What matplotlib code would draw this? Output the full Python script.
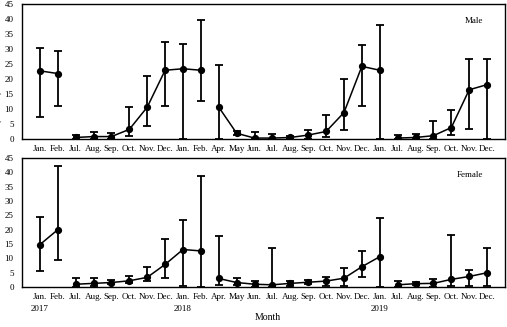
import numpy as np
import matplotlib
matplotlib.use("Agg")
import matplotlib.pyplot as plt

plt.rcParams['font.family'] = ['Liberation Serif', 'DejaVu Serif']

months = ["Jan.", "Feb.", "Jul.", "Aug.", "Sep.", "Oct.", "Nov.", "Dec.",
          "Jan.", "Feb.", "Apr.", "May", "Jun.", "Jul.", "Aug.", "Sep.",
          "Oct.", "Nov.", "Dec.", "Jan.", "Jul.", "Aug.", "Sep.", "Oct.",
          "Nov.", "Dec."]
years = {0: "2017", 8: "2018", 19: "2019"}
# continuous sampling runs (line breaks where months are missing)
runs = [(0, 2), (2, 10), (10, 20), (20, 26)]

male_mean = [22.7, 21.8, 0.5, 0.8, 0.8, 3.2, 10.6, 22.9, 23.4, 22.9, 10.6, 1.9, 0.3,
             0.3, 0.5, 1.3, 2.5, 8.8, 24.2, 22.9, 0.3, 0.5, 1.1, 3.8, 16.4, 18.1]
male_hi = [30.4, 29.3, 1.3, 2.2, 2.0, 10.8, 20.9, 32.3, 31.8, 39.6, 24.8, 2.5, 2.2,
           1.8, 1.1, 3.1, 8.1, 20.0, 31.4, 37.9, 1.3, 1.7, 6.1, 9.8, 26.6, 26.6]
male_lo = [7.2, 10.9, 0.0, 0.0, 0.0, 1.0, 4.3, 11.0, 0.0, 12.8, 0.0, 1.3, 0.0,
           0.0, 0.0, 0.0, 0.5, 3.1, 11.0, 0.0, 0.0, 0.0, 0.0, 1.3, 3.3, 0.0]

female_mean = [14.8, 20.0, 1.0, 1.3, 1.6, 2.2, 3.4, 7.9, 13.1, 12.6, 3.0, 1.6, 1.0,
               0.8, 1.3, 1.7, 2.1, 3.1, 7.1, 10.6, 0.8, 1.2, 1.3, 2.7, 3.7, 5.0]
female_hi = [24.4, 42.3, 3.3, 3.0, 2.4, 3.7, 6.9, 16.7, 23.4, 38.7, 17.8, 3.0, 2.1,
             13.5, 2.1, 2.6, 3.5, 6.5, 12.6, 24.2, 2.2, 1.7, 2.7, 18.1, 6.0, 13.7]
female_lo = [5.5, 9.5, 0.0, 0.5, 1.0, 1.3, 2.0, 3.1, 0.3, 0.0, 0.7, 0.8, 0.0,
             0.0, 0.5, 1.0, 0.5, 0.3, 3.6, 0.0, 0.0, 0.7, 0.0, 0.5, 0.3, 0.5]

fig = plt.figure(figsize=(5.07, 3.27), dpi=100)
ax1 = fig.add_axes([0.0434, 0.575, 0.9526, 0.413])
ax2 = fig.add_axes([0.0434, 0.122, 0.9526, 0.395])

x = np.arange(len(months))


def panel(ax, mean, lo, hi, label):
    mean = np.array(mean)
    err = [mean - np.array(lo), np.array(hi) - mean]
    ax.errorbar(x, mean, yerr=err, fmt="none", ecolor="black",
                elinewidth=1.3, capsize=3, capthick=1.3)
    for a, b in runs:
        ax.plot(x[a:b], mean[a:b], color="black", lw=1.1, marker="o", ms=4.2)
    ax.set_xlim(-1, 26)
    ax.set_ylim(0, 45)
    ax.set_yticks(range(0, 46, 5))
    ax.set_xticks(x)
    ax.set_xticklabels(months)
    ax.tick_params(length=0, labelsize=6.5, pad=4)
    ax.tick_params(axis="y", pad=6)
    for s in ax.spines.values():
        s.set_linewidth(1.0)
    ax.text(0.955, 0.87, label, transform=ax.transAxes, ha="right",
            va="center", fontsize=6.5)


panel(ax1, male_mean, male_lo, male_hi, "Male")
panel(ax2, female_mean, female_lo, female_hi, "Female")

for i, yr in years.items():
    ax2.text(i, -0.14, yr, transform=ax2.get_xaxis_transform(),
             ha="center", va="top", fontsize=6.5)
fig.text(0.528, 0.028, "Month", ha="center", va="center", fontsize=7)
# axis title is cropped at the left edge in the original figure
fig.text(0.009, 0.54, "Gonadosomatic index (\u00d710$^{-3}$)", rotation=90,
         ha="right", va="center", fontsize=7)

fig.savefig("out.png", dpi=100)
